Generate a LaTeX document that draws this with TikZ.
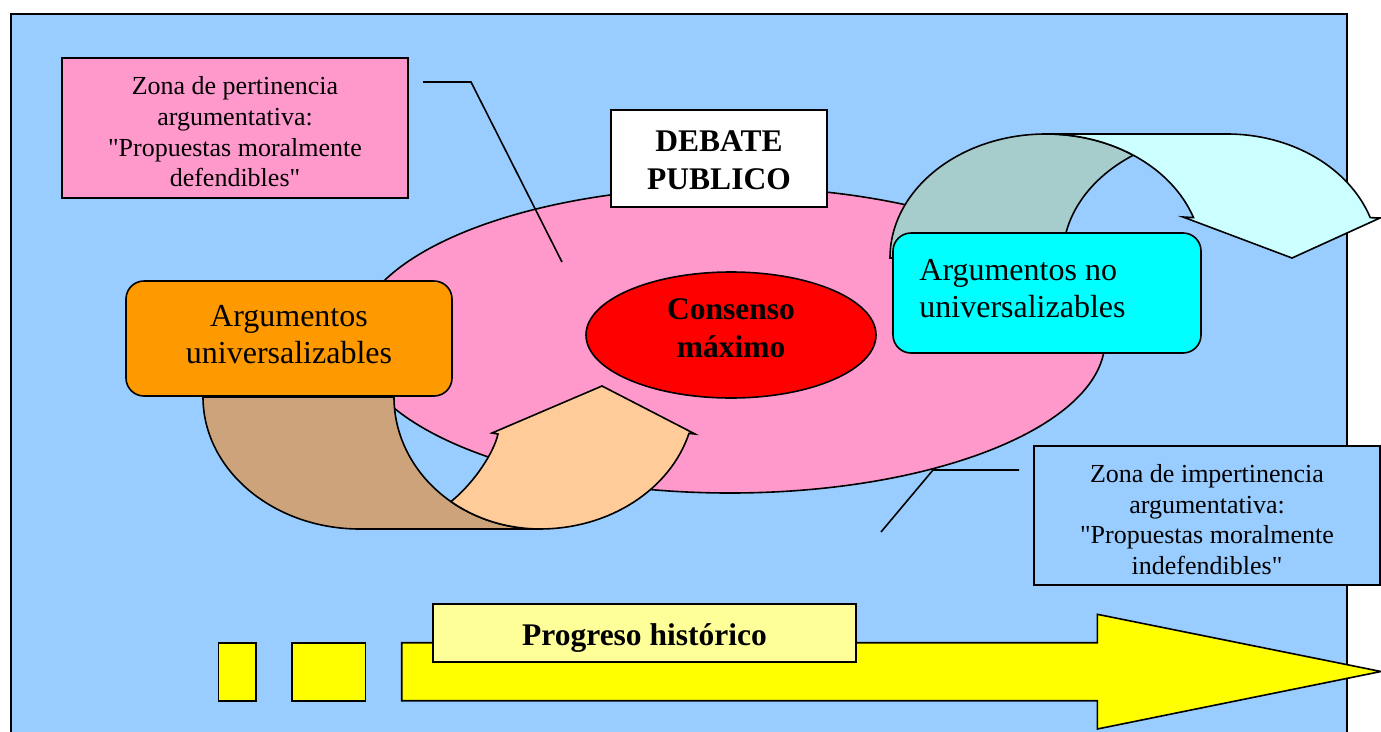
\documentclass[tikz,border=0pt]{standalone}
\usepackage{fontspec}
\setmainfont{Liberation Serif}[Ligatures=TeXOff]
\usetikzlibrary{shapes.geometric}
\definecolor{skyblue}{HTML}{99CCFF}
\definecolor{rosepink}{HTML}{FF99CC}
\definecolor{consred}{HTML}{FF0000}
\definecolor{amber}{HTML}{FF9900}
\definecolor{aqua}{HTML}{00FFFF}
\definecolor{paleaqua}{HTML}{CCFFFF}
\definecolor{sage}{HTML}{A6CDCC}
\definecolor{tan}{HTML}{CCA37B}
\definecolor{peach}{HTML}{FFCC99}
\definecolor{lemon}{HTML}{FFFF00}
\definecolor{palelemon}{HTML}{FFFF99}
\begin{document}
\begin{tikzpicture}[x=1pt, y=-1pt, line join=miter,
  outline/.style={draw=black, line width=1.6pt},
  textbox/.style={outline, rectangle, inner sep=0pt},
  roundbox/.style={textbox, rounded corners=18pt},
  callout/.style={draw=black, line width=1.6pt},
  words/.style={inner sep=0pt, align=center},
  zonefont/.style={words, font=\fontsize{26}{30.7}\selectfont},
  argfont/.style={words, font=\fontsize{32}{37}\selectfont},
  headfont/.style={words, font=\fontsize{31.5}{38}\selectfont\bfseries},
]
\useasboundingbox (0,0) rectangle (1381,731);
\fill[white] (0,0) rectangle (1381,731);

% panel
\draw[fill=skyblue, line width=2pt] (11,14) rectangle (1346.5,760);

% public debate zone
\node[ellipse, outline, fill=rosepink, minimum width=750pt, minimum height=306pt, inner sep=0pt] (debate) at (730,340) {};

% callout leader lines
\coordinate (pa) at (423,82);
\coordinate (pb) at (471,82);
\coordinate (pc) at (562,262);
\draw[callout] (pa) -- (pb) -- (pc);
\coordinate (qa) at (1019,470);
\coordinate (qb) at (933,470);
\coordinate (qc) at (881,532);
\draw[callout] (qa) -- (qb) -- (qc);

% lower curved arrow: back band
\draw[outline, fill=tan] (203,397)
  arc[start angle=180, end angle=90, x radius=157, y radius=132]
  -- (540,529)
  arc[start angle=90, end angle=180, x radius=146, y radius=132]
  -- cycle;
% lower curved arrow: front band and head
\draw[outline, fill=peach] (451,501.6)
  arc[start angle=127.56, end angle=90, x radius=146, y radius=132]
  arc[start angle=90, end angle=16, x radius=155, y radius=132]
  -- (695,434) -- (602,386) -- (492,433) -- (498,434)
  .. controls (494,452) and (475,482) .. (451,501.6) -- cycle;

% upper curved arrow: back band
\draw[outline, fill=sage] (890,258)
  arc[start angle=180, end angle=304, x radius=156, y radius=124]
  arc[start angle=235, end angle=180, x radius=165, y radius=124]
  -- cycle;
% upper curved arrow: front band and head
\draw[outline, fill=paleaqua] (1046,134) -- (1227,134)
  arc[start angle=270, end angle=341, x radius=151.5, y radius=124]
  -- (1380,218) -- (1292,258) -- (1183,217) -- (1193.5,217.6)
  arc[start angle=341, end angle=270, x radius=156, y radius=124]
  -- cycle;

% consensus core
\node[ellipse, outline, fill=consred, minimum width=290pt, minimum height=126pt, inner sep=0pt] (core) at (731,335) {};
\node[headfont] (coretext) at (731,328) {Consenso\\máximo};

% label boxes
\node[textbox, fill=rosepink, minimum width=346pt, minimum height=140pt] (pert) at (235,128) {};
\node[zonefont] (perttext) at ([yshift=-4pt]pert.center)
  {Zona de pertinencia\\argumentativa:\\"Propuestas moralmente\\defendibles"};

\node[textbox, fill=white, minimum width=216pt, minimum height=97pt] (title) at (719,158.5) {};
\node[headfont] (titletext) at ([yshift=-1.5pt]title.center) {DEBATE\\PUBLICO};

\node[roundbox, fill=amber, minimum width=326pt, minimum height=115pt] (univ) at (289,338.5) {};
\node[argfont] (univtext) at ([yshift=4pt]univ.center) {Argumentos\\universalizables};

\node[roundbox, fill=aqua, minimum width=308pt, minimum height=120pt] (nouniv) at (1047,293) {};
\node[argfont, align=left, anchor=west] (nounivtext) at ([xshift=27pt, yshift=4pt]nouniv.west)
  {Argumentos no\\universalizables};

\node[textbox, fill=skyblue, minimum width=346pt, minimum height=139pt] (impert) at (1207,515.5) {};
\node[zonefont] (impertext) at ([yshift=-4pt]impert.center)
  {Zona de impertinencia\\argumentativa:\\"Propuestas moralmente\\indefendibles"};

% historical progress
\draw[outline, fill=lemon] (218.3,642.7) rectangle (255.7,700.7);
\draw[outline, fill=lemon] (291.7,642.7) rectangle (365.3,700.7);
\draw[outline, fill=lemon] (401.7,642.7) -- (1097.3,642.7) -- (1097.3,614.3)
  -- (1381,671.5) -- (1097.3,729) -- (1097.3,700.7) -- (401.7,700.7) -- cycle;
\node[textbox, fill=palelemon, minimum width=423pt, minimum height=58pt] (prog) at (644.5,633) {};
\node[headfont] (progtext) at ([yshift=-5pt]prog.center) {Progreso histórico};
\end{tikzpicture}
\end{document}
